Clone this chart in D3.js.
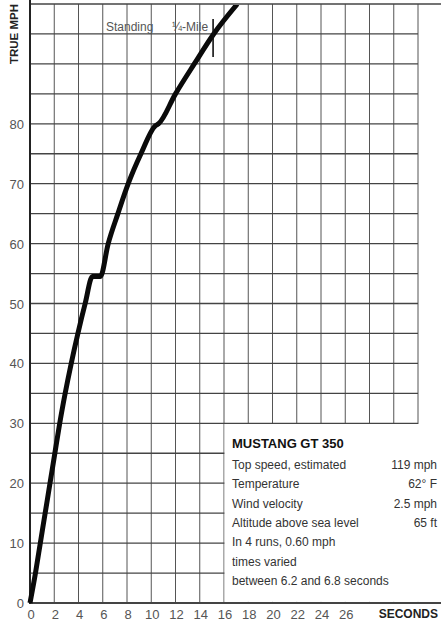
<!DOCTYPE html>
<html>
<head>
<meta charset="utf-8">
<script src="https://cdn.jsdelivr.net/npm/d3@7"></script>
<style>
  body { margin: 0; background: #fff; }
  text { font-family: "Liberation Sans", sans-serif; }
</style>
</head>
<body>
<div id="chart-area"></div>
<script>
// acceleration curve (seconds, true mph)
let times = [0, 0.45, 0.85, 1.25, 1.65, 2.05, 2.45, 2.9, 3.4, 3.95, 4.55, 5.15, 5.8, 6.45, 7.25, 8.1, 9.15, 10.35, 10.6, 12.0, 13.55, 15.15, 17.1];
let mph   = [0, 5,    10,   15,   20,   25,   30,   35,  40,  45,   50,   54.5, 54.5, 60, 65,   70,  75,   79.7,  80,   85,   90,    95,    100];

let xTicks = [0, 2, 4, 6, 8, 10, 12, 14, 16, 18, 20, 22, 24, 26];
let xGrid = d3.range(0, 33, 2);
let yTicks = [0, 10, 20, 30, 40, 50, 60, 70, 80];
let yGrid = d3.range(0, 101, 5);
let quarterMile = 15.1;

let infoRows = [
    ["Top speed, estimated", "119 mph"],
    ["Temperature", "62° F"],
    ["Wind velocity", "2.5 mph"],
    ["Altitude above sea level", "65 ft"],
    ["In 4 runs, 0.60 mph", ""],
    ["times varied", ""],
    ["between 6.2 and 6.8 seconds", ""]
];

let svgCanvas = d3.select("#chart-area")
                    .append("svg")
                    .attr("width", 441)
                    .attr("height", 621)

let x = d3.scaleLinear().domain([0, 32]).range([30, 418]);
let y = d3.scaleLinear().domain([0, 100]).range([603, 4]);

// grid
svgCanvas.selectAll(".vgrid")
         .data(xGrid)
         .enter().append("line")
         .attr("x1", d => x(d))
         .attr("x2", d => x(d))
         .attr("y1", y(100))
         .attr("y2", y(0))
         .attr("stroke", "#555")
         .attr("stroke-width", 1)

svgCanvas.selectAll(".hgrid")
         .data(yGrid)
         .enter().append("line")
         .attr("x1", x(0))
         .attr("x2", d => (d == 100 || d == 0) ? 441 : x(32))
         .attr("y1", d => y(d))
         .attr("y2", d => y(d))
         .attr("stroke", "#444")
         .attr("stroke-width", d => d == 0 ? 2.2 : 1.3)

// left axis
svgCanvas.append("line")
         .attr("x1", x(0)).attr("x2", x(0))
         .attr("y1", 0).attr("y2", y(0) + 1)
         .attr("stroke", "#222")
         .attr("stroke-width", 2)

// info box blanks out the grid
svgCanvas.append("rect")
         .attr("x", x(16) + 0.5)
         .attr("y", y(30) + 0.7)
         .attr("width", 441 - x(16))
         .attr("height", y(0) - y(30) - 1.8)
         .attr("fill", "#fff")

// curve
let line = d3.line()
             .x((d, i) => x(times[i]))
             .y(d => y(d))
             .curve(d3.curveMonotoneX)

svgCanvas.append("clipPath").attr("id", "clip")
         .append("rect")
         .attr("x", 0).attr("y", y(100) + 1)
         .attr("width", 441).attr("height", 621)

svgCanvas.append("path")
         .datum(mph)
         .attr("d", line)
         .attr("clip-path", "url(#clip)")
         .attr("fill", "none")
         .attr("stroke", "#0a0a0a")
         .attr("stroke-width", 5)
         .attr("stroke-linejoin", "round")

// quarter mile mark
svgCanvas.append("line")
         .attr("x1", x(quarterMile)).attr("x2", x(quarterMile))
         .attr("y1", 19).attr("y2", 57)
         .attr("stroke", "#111")
         .attr("stroke-width", 1.6)

svgCanvas.append("text")
         .attr("x", 106)
         .attr("y", 31)
         .attr("font-size", 12)
         .attr("fill", "#555")
         .text("Standing")

svgCanvas.append("text")
         .attr("x", x(quarterMile) - 5)
         .attr("y", 31)
         .attr("text-anchor", "end")
         .attr("font-size", 12)
         .attr("fill", "#555")
         .text("¼-Mile")

// axis labels
svgCanvas.selectAll(".ylab")
         .data(yTicks)
         .enter().append("text")
         .attr("x", 24)
         .attr("y", d => y(d) + 5)
         .attr("text-anchor", "end")
         .attr("font-size", 13)
         .attr("fill", "#555")
         .text(d => d)

svgCanvas.selectAll(".xlab")
         .data(xTicks)
         .enter().append("text")
         .attr("x", d => x(d) + 1)
         .attr("y", 619)
         .attr("text-anchor", "middle")
         .attr("font-size", 13)
         .attr("fill", "#555")
         .text(d => d)

svgCanvas.append("text")
         .attr("x", 438)
         .attr("y", 618)
         .attr("text-anchor", "end")
         .attr("font-size", 12)
         .attr("font-weight", "bold")
         .attr("fill", "#222")
         .text("SECONDS")

svgCanvas.append("text")
         .attr("transform", "translate(18, 34) rotate(-90)")
         .attr("text-anchor", "middle")
         .attr("font-size", 11.5)
         .attr("font-weight", "bold")
         .attr("fill", "#222")
         .text("TRUE MPH")

// info box text
svgCanvas.append("text")
         .attr("x", 232)
         .attr("y", 448)
         .attr("font-size", 13)
         .attr("font-weight", "bold")
         .attr("fill", "#111")
         .text("MUSTANG GT 350")

svgCanvas.selectAll(".info")
         .data(infoRows)
         .enter().append("text")
         .attr("x", 232)
         .attr("y", (d, i) => 469 + i * 19.3)
         .attr("font-size", 12)
         .attr("fill", "#333")
         .text(d => d[0])

svgCanvas.selectAll(".infoval")
         .data(infoRows)
         .enter().append("text")
         .attr("x", 437)
         .attr("y", (d, i) => 469 + i * 19.3)
         .attr("text-anchor", "end")
         .attr("font-size", 12)
         .attr("fill", "#333")
         .text(d => d[1])
</script>
</body>
</html>
